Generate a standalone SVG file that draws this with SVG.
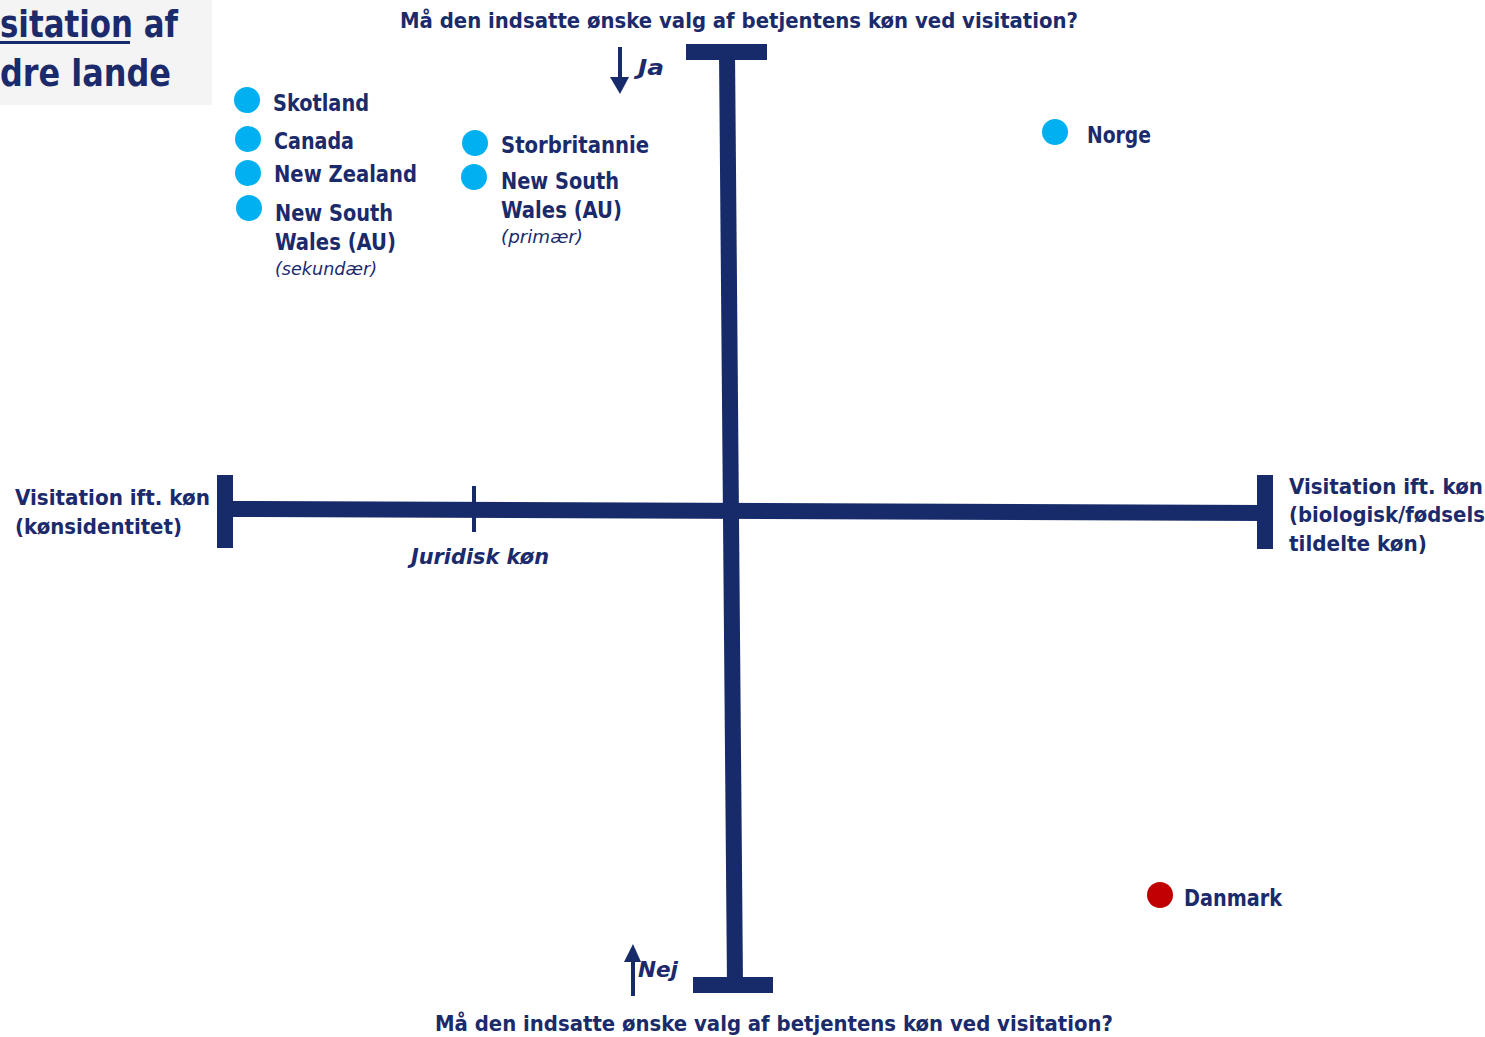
<svg xmlns="http://www.w3.org/2000/svg" width="1485" height="1037" viewBox="0 0 1485 1037">
<defs>
<style>
text{font-family:"DejaVu Sans Condensed","DejaVu Sans","Liberation Sans",sans-serif;font-stretch:condensed;fill:#1b2a6b;font-weight:bold}
.q{font-size:21px}
.c{font-size:23px}
.lab{font-size:21px}
.it{font-style:italic;font-weight:normal;font-size:18px}
.iti{font-style:italic;font-size:21px}
.ttl{font-size:38px}
.ax{fill:#172a6a}
.dot{fill:#00b0f0}
.red{fill:#c00000}
</style>
</defs>
<rect x="0" y="0" width="212" height="105" fill="#f4f4f4"/>
<g id="title">
<text class="ttl" x="0" y="37" textLength="178" lengthAdjust="spacingAndGlyphs">sitation af</text>
<rect x="0" y="41" width="130" height="3" class="ax"/>
<text class="ttl" x="0" y="86" textLength="171" lengthAdjust="spacingAndGlyphs">dre lande</text>
</g>
<g id="connectors">
<polygon class="ax" points="719,52 735,52 743,985 727,985"/>
<rect class="ax" x="686" y="44" width="81" height="16"/>
<rect class="ax" x="693" y="977" width="80" height="16"/>
<polygon class="ax" points="225,501 1265,505 1265,521 225,517"/>
<rect class="ax" x="217" y="475" width="16" height="73"/>
<rect class="ax" x="1257" y="475" width="16" height="74"/>
<rect class="ax" x="472" y="486" width="4" height="46"/>
<rect class="ax" x="618" y="47" width="4" height="32"/>
<polygon class="ax" points="610,77 629,77 620,94"/>
<rect class="ax" x="631" y="960" width="4" height="36"/>
<polygon class="ax" points="624,962 641,962 633,944"/>
</g>
<g id="q-top"><text class="q" x="400" y="28" textLength="678" lengthAdjust="spacingAndGlyphs">Må den indsatte ønske valg af betjentens køn ved visitation?</text></g>
<g id="q-bottom"><text class="q" x="435" y="1031" textLength="678" lengthAdjust="spacingAndGlyphs">Må den indsatte ønske valg af betjentens køn ved visitation?</text></g>
<g id="ja"><text class="iti" x="638" y="75" textLength="26" lengthAdjust="spacingAndGlyphs">Ja</text></g>
<g id="nej"><text class="iti" x="638" y="977" textLength="40" lengthAdjust="spacingAndGlyphs">Nej</text></g>
<g id="left-label">
<text class="lab" x="15" y="505" textLength="195" lengthAdjust="spacingAndGlyphs">Visitation ift. køn</text>
<text class="lab" x="15" y="534" textLength="167" lengthAdjust="spacingAndGlyphs">(kønsidentitet)</text>
</g>
<g id="right-label">
<text class="lab" x="1289" y="494" textLength="194" lengthAdjust="spacingAndGlyphs">Visitation ift. køn</text>
<text class="lab" x="1289" y="522" textLength="204" lengthAdjust="spacingAndGlyphs">(biologisk/fødsels-</text>
<text class="lab" x="1289" y="551" textLength="138" lengthAdjust="spacingAndGlyphs">tildelte køn)</text>
</g>
<g id="juridisk"><text class="iti" x="411" y="564" textLength="138" lengthAdjust="spacingAndGlyphs">Juridisk køn</text></g>
<g id="skotland"><circle class="dot" cx="247" cy="100" r="13"/><text class="c" x="273" y="111" textLength="96" lengthAdjust="spacingAndGlyphs">Skotland</text></g>
<g id="canada"><circle class="dot" cx="248" cy="139" r="13"/><text class="c" x="274" y="149" textLength="80" lengthAdjust="spacingAndGlyphs">Canada</text></g>
<g id="newzealand"><circle class="dot" cx="248" cy="173" r="13"/><text class="c" x="274" y="182" textLength="143" lengthAdjust="spacingAndGlyphs">New Zealand</text></g>
<g id="nsw-sek"><circle class="dot" cx="249" cy="208" r="13"/>
<text class="c" x="275" y="221" textLength="118" lengthAdjust="spacingAndGlyphs">New South</text>
<text class="c" x="275" y="250" textLength="121" lengthAdjust="spacingAndGlyphs">Wales (AU)</text>
<text class="it" x="275" y="275" textLength="102" lengthAdjust="spacingAndGlyphs">(sekundær)</text></g>
<g id="storbritannie"><circle class="dot" cx="475" cy="143" r="13"/><text class="c" x="501" y="153" textLength="148" lengthAdjust="spacingAndGlyphs">Storbritannie</text></g>
<g id="nsw-prim"><circle class="dot" cx="474" cy="177" r="13"/>
<text class="c" x="501" y="189" textLength="118" lengthAdjust="spacingAndGlyphs">New South</text>
<text class="c" x="501" y="218" textLength="121" lengthAdjust="spacingAndGlyphs">Wales (AU)</text>
<text class="it" x="501" y="243" textLength="82" lengthAdjust="spacingAndGlyphs">(primær)</text></g>
<g id="norge"><circle class="dot" cx="1055" cy="132" r="13"/><text class="c" x="1087" y="143" textLength="64" lengthAdjust="spacingAndGlyphs">Norge</text></g>
<g id="danmark"><circle class="red" cx="1160" cy="895" r="13"/><text class="c" x="1184" y="906" textLength="98" lengthAdjust="spacingAndGlyphs">Danmark</text></g>
</svg>
